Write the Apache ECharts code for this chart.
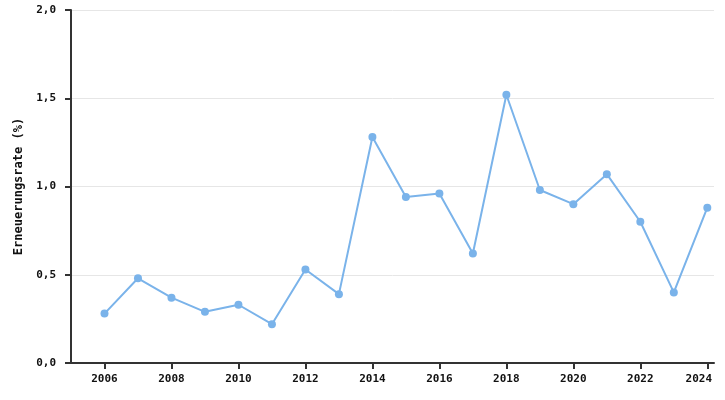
<!DOCTYPE html>
<html>
<head>
<meta charset="utf-8">
<script src="https://cdn.jsdelivr.net/npm/echarts@6/dist/echarts.min.js"></script>
<style>
  html, body { margin: 0; padding: 0; background: #fff; }
  #chart { width: 725px; height: 400px; }
</style>
</head>
<body>
<div id="chart"></div>
<script>
// Jahre und Erneuerungsrate in %
const years = [2006, 2007, 2008, 2009, 2010, 2011, 2012, 2013, 2014, 2015,
               2016, 2017, 2018, 2019, 2020, 2021, 2022, 2023, 2024];
const rate = [0.28, 0.48, 0.37, 0.29, 0.33, 0.22, 0.53, 0.39, 1.28, 0.94,
              0.96, 0.62, 1.52, 0.98, 0.90, 1.07, 0.80, 0.40, 0.88];
const xTicks = [2006, 2008, 2010, 2012, 2014, 2016, 2018, 2020, 2022, 2024];
const yTicks = [0, 0.5, 1.0, 1.5, 2.0];

const font = 'DejaVu Sans Mono';

var points = [];
for (var i = 0; i < years.length; i++) {
    points.push([years[i], rate[i]]);
}

const chart = echarts.init(document.getElementById('chart'));
chart.setOption({
    animation: false,
    grid: { left: 71, right: 11, top: 10, bottom: 37, outerBoundsMode: 'none' },
    xAxis: {
        type: 'value',
        min: 2005,
        max: 2024.2,
        axisLine: { lineStyle: { color: '#333', width: 2 } },
        axisTick: { customValues: xTicks, length: 6, lineStyle: { color: '#333', width: 2 } },
        axisLabel: {
            customValues: xTicks,
            fontFamily: font, fontWeight: 'bold', fontSize: 11, color: '#111',
            margin: 11,
            // letztes Label nach links schieben, damit es in die Fläche passt
            formatter: function (v) {
                return v === xTicks[xTicks.length - 1] ? '{last|' + v + '}' : String(v);
            },
            rich: {
                last: { fontFamily: font, fontWeight: 'bold', fontSize: 11, color: '#111', padding: [0, 17, 0, 0] }
            }
        },
        splitLine: { show: false }
    },
    yAxis: {
        type: 'value',
        min: 0,
        max: 2,
        interval: 0.5,
        name: 'Erneuerungsrate (%)',
        nameLocation: 'middle',
        nameGap: 40,
        nameTextStyle: { fontFamily: font, fontWeight: 'bold', fontSize: 12, color: '#111' },
        axisLine: { show: true, lineStyle: { color: '#333', width: 2 } },
        axisTick: { show: true, length: 6, lineStyle: { color: '#333', width: 2 } },
        axisLabel: {
            customValues: yTicks,
            fontFamily: font, fontWeight: 'bold', fontSize: 11, color: '#111',
            margin: 15,
            formatter: function (v) { return v.toFixed(1).replace('.', ','); }
        },
        splitLine: { lineStyle: { color: '#e6e6e6', width: 1 } }
    },
    series: [{
        type: 'line',
        data: points,
        color: '#7ab3ea',
        symbol: 'circle',
        symbolSize: 8,
        lineStyle: { width: 2 }
    }]
});
</script>
</body>
</html>
